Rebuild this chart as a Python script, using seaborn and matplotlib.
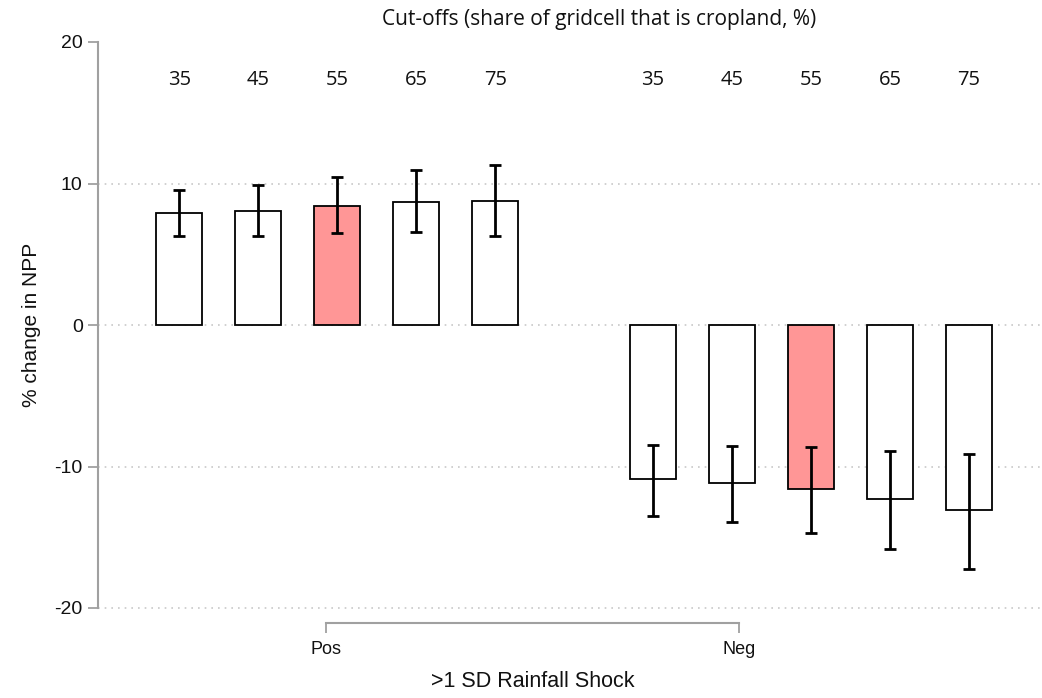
import matplotlib
matplotlib.use("Agg")
import matplotlib.pyplot as plt
import seaborn as sns
import pandas as pd
import numpy as np

# ---- data ----
cutoffs = [35, 45, 55, 65, 75]
shocks = ["Pos", "Neg"]
pos_est = [7.90, 8.06, 8.43, 8.69, 8.76]
pos_lo = [6.31, 6.31, 6.53, 6.60, 6.29]
pos_hi = [9.56, 9.89, 10.44, 10.93, 11.33]
neg_est = [-10.91, -11.17, -11.61, -12.32, -13.10]
neg_lo = [-13.52, -13.92, -14.70, -15.81, -17.22]
neg_hi = [-8.46, -8.53, -8.62, -8.90, -9.12]
highlight_cutoff = 55

sns.set_theme(style="white")
plt.rcParams["font.family"] = ["Liberation Sans", "DejaVu Sans"]

rows = []
for gi, (shock, est, lo, hi) in enumerate(zip(shocks, [pos_est, neg_est],
                                              [pos_lo, neg_lo], [pos_hi, neg_hi])):
    for ci, c in enumerate(cutoffs):
        rows.append(dict(shock=shock, cutoff=c, pos=gi * 6 + ci,
                         est=est[ci], lo=lo[ci], hi=hi[ci],
                         hl="hl" if c == highlight_cutoff else "no"))
df = pd.DataFrame(rows)

fig = plt.figure(figsize=(10.42, 6.98), dpi=100)
ax = fig.add_axes([98 / 1042, 1 - 608 / 698, (1040 - 98) / 1042, (608 - 42) / 698])

grid_col = "#c8c8c8"
for yv in [10, 0, -10, -20]:
    ax.axhline(yv, color=grid_col, lw=1.2, ls=(0, (1, 3)), zorder=0, clip_on=False)

sns.barplot(data=df, x="pos", y="est", hue="hl", native_scale=True,
            palette={"no": "white", "hl": "#FF9696"}, width=0.585,
            saturation=1, edgecolor="black", linewidth=1.3, legend=False,
            ax=ax, zorder=2, errorbar=None)

ax.errorbar(df["pos"], df["est"],
            yerr=[df["est"] - df["lo"], df["hi"] - df["est"]],
            fmt="none", ecolor="black", elinewidth=2.0, capsize=4.2,
            capthick=2.0, zorder=3)

ax.set_xlim(-1.03, 10.9)
ax.set_ylim(-20, 20)

# top cut-off labels
for _, r in df.iterrows():
    ax.text(r["pos"], 17.3, str(r["cutoff"]), ha="center", va="center",
            fontsize=14.5, family=["Open Sans", "DejaVu Sans"], color="#111111")

fig.text(599 / 1042, 1 - 20 / 698,
         "Cut-offs (share of gridcell that is cropland, %)",
         ha="center", va="center", fontsize=15,
         family=["Open Sans", "DejaVu Sans"], color="#111111")

# axes styling
spine_col = "#a0a0a0"
for s in ["top", "right"]:
    ax.spines[s].set_visible(False)
ax.spines["left"].set_color(spine_col)
ax.spines["left"].set_linewidth(1.5)
ax.spines["left"].set_bounds(-20, 20)
ax.set_yticks([-20, -10, 0, 10, 20])
ax.set_yticklabels(["-20", "-10", "0", "10", "20"])
ax.tick_params(axis="y", direction="out", length=7, width=1.3, color=spine_col,
               labelsize=14, pad=4, left=True, labelcolor="#111111")

grp_x = [1.86, 7.09]
ax.spines["bottom"].set_position(("outward", 11))
ax.spines["bottom"].set_color(spine_col)
ax.spines["bottom"].set_linewidth(1.5)
ax.spines["bottom"].set_bounds(grp_x[0], grp_x[1])
ax.set_xticks(grp_x)
ax.set_xticklabels(shocks)
ax.tick_params(axis="x", direction="out", length=7, width=1.3, color=spine_col,
               labelsize=13, pad=6, bottom=True, labelcolor="#111111")

ax.set_xlabel(">1 SD Rainfall Shock", fontsize=15.5, color="#111111")
ax.set_ylabel("% change in NPP", fontsize=15, labelpad=10, color="#111111")
ax.xaxis.set_label_coords((533 - 98) / (1040 - 98), -(671 - 608) / (608 - 42))

fig.savefig("out.png", dpi=100)
